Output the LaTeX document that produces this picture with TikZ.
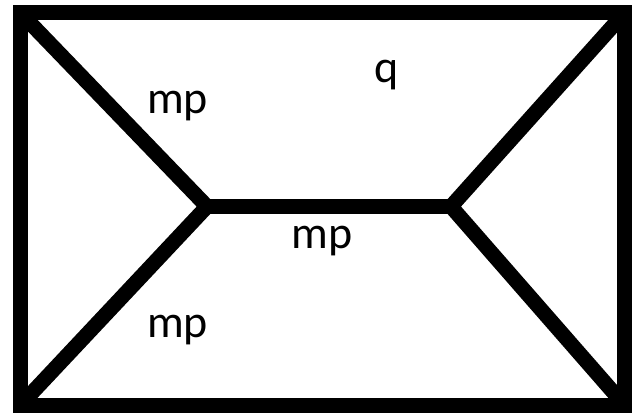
\documentclass[tikz,border=0pt]{standalone}
\usepackage{fontspec}
\setmainfont{Carlito}
\begin{document}
\begin{tikzpicture}[x=1pt,y=-1pt,
  edge/.style={line width=15pt,line cap=butt},
  lbl/.style={inner sep=0pt,anchor=base,font=\fontsize{46}{50}\selectfont}]
\useasboundingbox[fill=white] (0,0) rectangle (634,412);
\coordinate (tl) at (20.5,13);
\coordinate (tr) at (624.5,13);
\coordinate (br) at (624.5,405);
\coordinate (bl) at (20.5,405);
\coordinate (jl) at (207,206.5);
\coordinate (jr) at (451,206.5);
\draw[edge,line join=miter] (tl) -- (tr) -- (br) -- (bl) -- cycle;
\draw[edge,line join=miter] (tl) -- (jl) -- (bl);
\draw[edge,line join=miter] (tr) -- (jr) -- (br);
\draw[edge] (jl) -- (jr);
\node[lbl] (l1) at (177.5,113) {mp};
\node[lbl] (l2) at (386.5,82) {q};
\node[lbl] (l3) at (322,248) {mp};
\node[lbl] (l4) at (177.5,337) {mp};
\end{tikzpicture}
\end{document}
